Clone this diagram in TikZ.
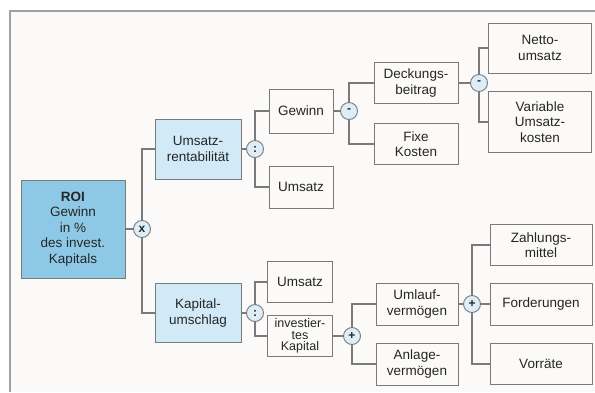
\documentclass[tikz,border=0pt]{standalone}
\usepackage{fontspec}
\setmainfont{Liberation Sans}
\usepackage{tikz}
\definecolor{rahmenGrau}{HTML}{A0A0A0}
\definecolor{linienGrau}{HTML}{7A7A7A}
\definecolor{roiBlau}{HTML}{8DC9E7}
\definecolor{hellBlau}{HTML}{D2EAF7}
\definecolor{kreisBlau}{HTML}{DDEEF8}
\definecolor{papier}{HTML}{FBFAF8}

\begin{document}
\begin{tikzpicture}[x=1pt,y=-1pt,
  every node/.style={font=\fontsize{13.5}{15.5}\selectfont,text=black!85},
  kasten/.style={draw=linienGrau,line width=0.9pt,fill=papier,align=center,
                 inner sep=0pt,minimum height=41pt},
  kreis/.style={circle,draw=linienGrau,line width=0.9pt,fill=kreisBlau,inner sep=0pt,
                minimum size=17pt,font=\bfseries\fontsize{12}{12}\selectfont},
  linie/.style={draw=linienGrau,line width=1.1pt}]
\useasboundingbox (0,0) rectangle (595,392);
\fill[white] (0,0) rectangle (595,392);
\fill[papier] (10,11) rectangle (595,392);
\draw[rahmenGrau,line width=1.2pt] (10,392) |- (595,11);
% Spitze
\node[kasten,fill=roiBlau,minimum width=104pt,minimum height=98pt] (roi) at (73,229)
  {\textbf{ROI}\\Gewinn\\in \%\\des invest.\\Kapitals};
\node[kreis] (mal) at (142,229) {x};
% zweite Ebene
\node[kasten,fill=hellBlau,minimum width=86pt,minimum height=60pt] (ur) at (198,149) {Umsatz-\\rentabilität};
\node[kasten,fill=hellBlau,minimum width=86pt,minimum height=59pt] (ku) at (198,313) {Kapital-\\umschlag};
\node[kreis] (div1) at (255,149) {:};
\node[kreis] (div2) at (255,313) {:};
% dritte Ebene
\node[kasten,minimum width=64pt,minimum height=44pt] (gew) at (301,111) {Gewinn};
\node[kasten,minimum width=64pt,minimum height=42pt] (ums1) at (301,187) {Umsatz};
\node[kasten,minimum width=65pt] (ums2) at (300,282) {Umsatz};
\node[kasten,minimum width=65pt,font=\fontsize{12.5}{11.5}\selectfont] (ik) at (300,336) {investier-\\tes\\Kapital};
\node[kreis] (min1) at (349,111) {-};
\node[kreis] (plus1) at (352,336) {+};
% vierte Ebene
\node[kasten,minimum width=84pt] (db) at (416,83) {Deckungs-\\beitrag};
\node[kasten,minimum width=84pt] (fk) at (416,144) {Fixe\\Kosten};
\node[kasten,minimum width=82pt,minimum height=42pt] (uv) at (417,304) {Umlauf-\\vermögen};
\node[kasten,minimum width=82pt,minimum height=42pt] (av) at (417,364) {Anlage-\\vermögen};
\node[kreis] (min2) at (479,83) {-};
\node[kreis] (plus2) at (472,304) {+};
% fuenfte Ebene
\node[kasten,minimum width=103pt,minimum height=50pt] (nu) at (540,48) {Netto-\\umsatz};
\node[kasten,minimum width=103pt,minimum height=61pt] (vk) at (540,122) {Variable\\Umsatz-\\kosten};
\node[kasten,minimum width=102pt] (zm) at (541,245) {Zahlungs-\\mittel};
\node[kasten,minimum width=102pt,minimum height=42pt] (ford) at (541,304) {Forderungen};
\node[kasten,minimum width=102pt] (vor) at (541,364) {Vorräte};
% Verbindungen
\draw[linie] (roi) -- (mal);
\draw[linie] (mal) |- (ur);
\draw[linie] (mal) |- (ku);
\draw[linie] (ur) -- (div1);
\draw[linie] (ku) -- (div2);
\draw[linie] (div1) |- (gew);
\draw[linie] (div1) |- (ums1);
\draw[linie] (div2) |- (ums2);
\draw[linie] (div2) |- (ik);
\draw[linie] (gew) -- (min1);
\draw[linie] (min1) |- (db);
\draw[linie] (min1) |- (fk);
\draw[linie] (db) -- (min2);
\draw[linie] (min2) |- (nu);
\draw[linie] (min2) |- (vk);
\draw[linie] (ik) -- (plus1);
\draw[linie] (plus1) |- (uv);
\draw[linie] (plus1) |- (av);
\draw[linie] (uv) -- (plus2);
\draw[linie] (plus2) |- (zm);
\draw[linie] (plus2) -- (ford);
\draw[linie] (plus2) |- (vor);
\end{tikzpicture}
\end{document}
